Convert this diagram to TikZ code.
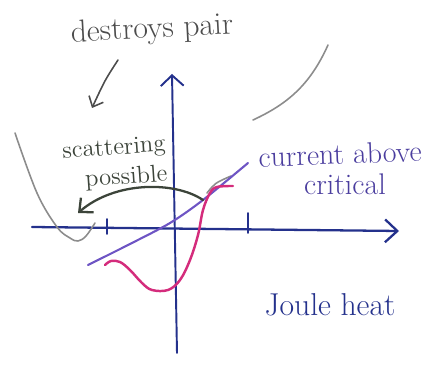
\documentclass[tikz,border=0pt]{standalone}
\usepackage{xcolor}
\usepackage{tikz}
\usetikzlibrary{arrows.meta}

\definecolor{axisblue}{HTML}{24318C}
\definecolor{linepurple}{HTML}{6E55C4}
\definecolor{labelpurple}{HTML}{4A3D9E}
\definecolor{curvepink}{HTML}{D42C7C}
\definecolor{pencilgrey}{HTML}{8C8C8C}
\definecolor{inkdark}{HTML}{3C443A}

\begin{document}
\begin{tikzpicture}[line cap=round, line join=round]
    % Frame of the sheet
    \useasboundingbox (0,0) rectangle (8.92,7.3);

    % Axes
    \coordinate (origin) at (3.42,2.80);
    \draw[-{Straight Barb[length=7pt,width=13pt]}, axisblue, line width=1.3pt] (0.64,2.76) -- (7.98,2.68);
    \draw[-{Straight Barb[length=6pt,width=13pt]}, axisblue, line width=1.1pt] (3.54,0.24) -- (3.44,5.82);

    % Tick marks
    \draw[axisblue, line width=1pt] (2.14,2.92) -- (2.14,2.62);
    \draw[axisblue, line width=1pt] (4.96,3.04) -- (4.96,2.64);

    % Grey pencil curves
    \draw[pencilgrey, line width=0.9pt] plot[smooth, tension=0.6] coordinates
        {(0.30,4.64) (0.74,3.44) (1.14,2.76) (1.40,2.54) (1.56,2.48) (1.72,2.58) (1.90,2.84)};
    \draw[pencilgrey, line width=0.9pt] (5.06,4.90) .. controls (5.75,5.22) and (6.2,5.6) .. (6.56,6.40);
    \draw[pencilgrey, line width=0.9pt] (4.14,3.44) .. controls (4.3,3.64) .. (4.62,3.78);

    % Purple characteristic
    \draw[linepurple, line width=1.2pt] plot[smooth] coordinates
        {(1.76,2.00) (2.60,2.42) (3.40,2.84) (4.06,3.30) (4.96,4.04)};

    % Pink curve
    \draw[curvepink, line width=1.4pt] plot[smooth, tension=0.6] coordinates
        {(2.10,2.00) (2.22,2.08) (2.40,2.06) (2.60,1.90) (2.84,1.64) (3.04,1.50)
         (3.36,1.50) (3.60,1.70) (3.80,2.10) (3.96,2.60) (4.06,3.10) (4.20,3.44)
         (4.34,3.56) (4.66,3.58)};

    % Scattering arrow
    \draw[-{Straight Barb[length=6pt,width=11pt]}, inkdark, line width=1.3pt]
        (4.06,3.30) .. controls (3.5,3.68) and (2.3,3.68) .. (1.56,3.04);

    % Labels
    \node (destroys) [text=black!70, rotate=3, font=\fontsize{18}{20}\selectfont] at (3.04,6.70) {destroys pair};
    \coordinate (destroystail) at (2.36,6.10);
    \coordinate (destroystip) at (1.84,5.14);
    \draw[-{Straight Barb[length=5pt,width=9pt]}, black!70, line width=0.9pt]
        (destroystail) .. controls (2.1,5.7) .. (destroystip);

    \node (scattering) [text=inkdark, rotate=4, inner sep=0.5pt, align=right, font=\fontsize{14}{17}\selectfont] at (2.30,4.02) {scattering\\possible};

    \node (current) [text=labelpurple, rotate=2, inner sep=1pt, font=\fontsize{17}{18}\selectfont] at (6.80,4.22) {current above};
    \node (critical) [text=labelpurple, inner sep=1pt, font=\fontsize{17}{18}\selectfont] at (6.90,3.62) {critical};

    \node (joule) [text=axisblue, font=\fontsize{18}{20}\selectfont] at (6.60,1.20) {Joule heat};
\end{tikzpicture}
\end{document}
